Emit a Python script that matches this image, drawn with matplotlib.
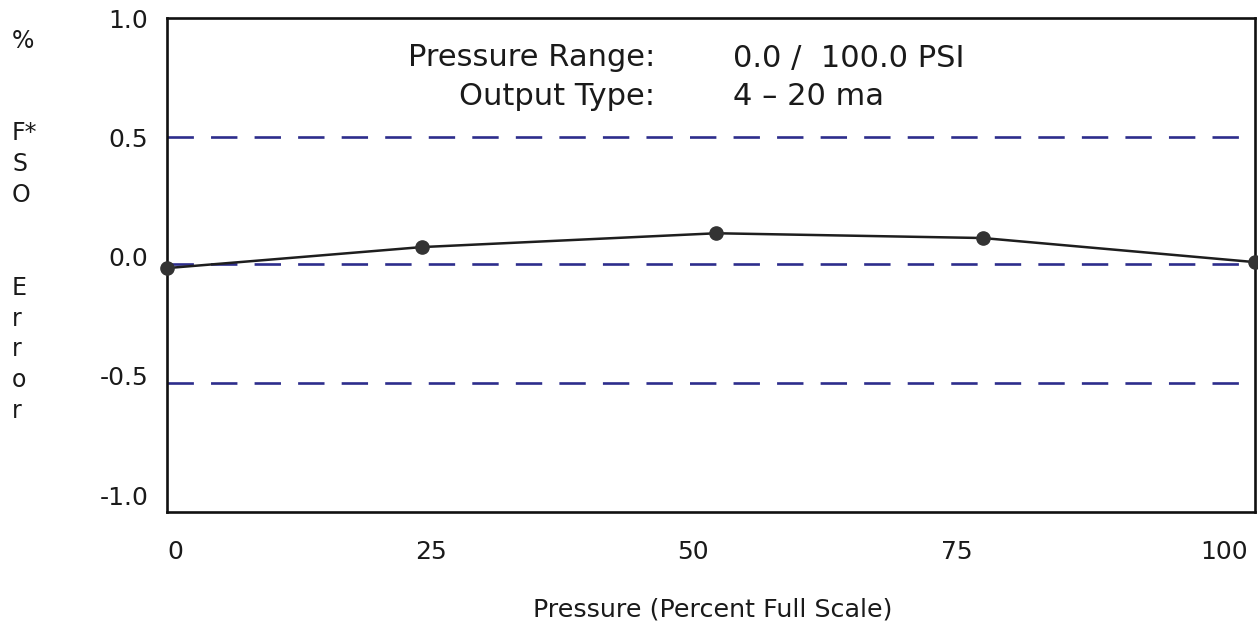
import matplotlib
matplotlib.use("Agg")
import matplotlib.pyplot as plt

# Data
pressure_pct = [0.0, 23.4, 50.5, 75.0, 100.0]
fso_error = [-0.048, 0.040, 0.098, 0.078, -0.023]
limit_lines = [0.50, -0.03, -0.53]
x_tick_pos = [0.8, 24.3, 48.3, 72.6, 97.2]
x_tick_labels = ["0", "25", "50", "75", "100"]
y_ticks = [1.0, 0.5, 0.0, -0.5, -1.0]
y_tick_labels = ["1.0", "0.5", "0.0", "-0.5", "-1.0"]
info_keys = ["Pressure Range:", "Output Type:"]
info_vals = ["0.0 /  100.0 PSI", "4 \u2013 20 ma"]

plt.rcParams['font.family'] = ['DejaVu Sans']
W, H = 1258, 629
fig = plt.figure(figsize=(W / 100, H / 100), dpi=100)
ax = fig.add_axes([167 / W, 1 - 512 / H, (1255 - 167) / W, (512 - 18) / H])

ax.set_xlim(0, 100)
ax.set_ylim(-1.07, 1.0)

for v in limit_lines:
    ax.axhline(v, color='#2d2d8c', lw=1.9, dashes=(10, 6.5), zorder=2)

ax.plot(pressure_pct, fso_error, color='#1e1e1e', lw=1.8, marker='o',
        markersize=9.5, markerfacecolor='#333333', markeredgecolor='#333333',
        clip_on=False, zorder=3)

for s in ax.spines.values():
    s.set_linewidth(1.9)
    s.set_color('#111111')

TXT = '#1a1a1a'
ax.set_xticks(x_tick_pos)
ax.set_xticklabels(x_tick_labels)
ax.set_yticks(y_ticks)
ax.set_yticklabels(y_tick_labels)
ax.tick_params(axis='both', length=0, labelsize=18, colors=TXT)
ax.tick_params(axis='x', pad=20)
ax.tick_params(axis='y', pad=13.5)

ax.set_xlabel("Pressure (Percent Full Scale)", fontsize=18.3, color=TXT, va='center')
ax.xaxis.set_label_coords((713 - 167) / (1255 - 167), (512 - 610) / (512 - 18))

fig.text(12 / W, 1 - 226 / H, "%\n\n\nF*\nS\nO\n\n\nE\nr\nr\no\nr",
         ha='left', va='center', fontsize=17, color=TXT, linespacing=1.36)

for i, (k, v) in enumerate(zip(info_keys, info_vals)):
    y = 1 - (58 + 38.5 * i) / H
    fig.text(655 / W, y, k, ha='right', va='center', fontsize=22, color=TXT)
    fig.text(733 / W, y, v, ha='left', va='center', fontsize=22, color=TXT)

fig.savefig("out.png", dpi=100)
